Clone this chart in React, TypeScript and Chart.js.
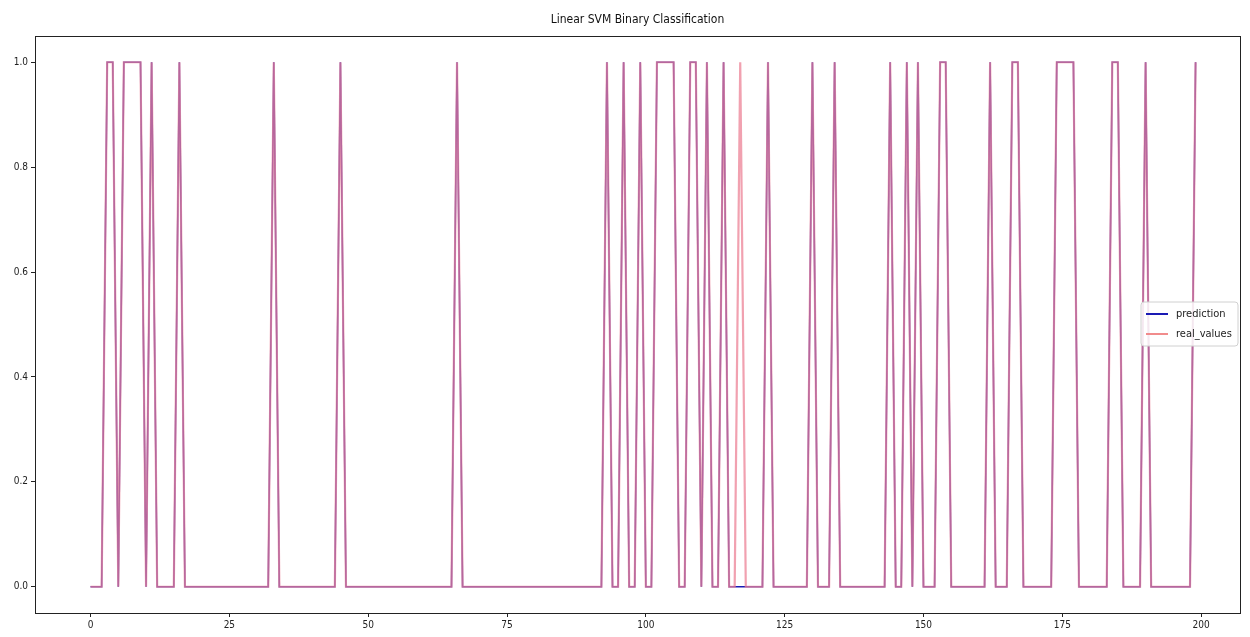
import { useEffect, useRef } from "react";
import { Chart, registerables } from "chart.js";
Chart.register(...registerables);

const TITLE = "Linear SVM Binary Classification";
const SERIES_NAMES = ["prediction", "real_values"];

const REAL_VALUES = [
  0, 0, 0, 1, 1, 0, 1, 1, 1, 1, 0, 1, 0, 0, 0, 0, 1, 0, 0, 0,
  0, 0, 0, 0, 0, 0, 0, 0, 0, 0, 0, 0, 0, 1, 0, 0, 0, 0, 0, 0,
  0, 0, 0, 0, 0, 1, 0, 0, 0, 0, 0, 0, 0, 0, 0, 0, 0, 0, 0, 0,
  0, 0, 0, 0, 0, 0, 1, 0, 0, 0, 0, 0, 0, 0, 0, 0, 0, 0, 0, 0,
  0, 0, 0, 0, 0, 0, 0, 0, 0, 0, 0, 0, 0, 1, 0, 0, 1, 0, 0, 1,
  0, 0, 1, 1, 1, 1, 0, 0, 1, 1, 0, 1, 0, 0, 1, 0, 0, 1, 0, 0,
  0, 0, 1, 0, 0, 0, 0, 0, 0, 0, 1, 0, 0, 0, 1, 0, 0, 0, 0, 0,
  0, 0, 0, 0, 1, 0, 0, 1, 0, 1, 0, 0, 0, 1, 1, 0, 0, 0, 0, 0,
  0, 0, 1, 0, 0, 0, 1, 1, 0, 0, 0, 0, 0, 0, 1, 1, 1, 1, 0, 0,
  0, 0, 0, 0, 1, 1, 0, 0, 0, 0, 1, 0, 0, 0, 0, 0, 0, 0, 0, 1,
];

const PREDICTION = [
  0, 0, 0, 1, 1, 0, 1, 1, 1, 1, 0, 1, 0, 0, 0, 0, 1, 0, 0, 0,
  0, 0, 0, 0, 0, 0, 0, 0, 0, 0, 0, 0, 0, 1, 0, 0, 0, 0, 0, 0,
  0, 0, 0, 0, 0, 1, 0, 0, 0, 0, 0, 0, 0, 0, 0, 0, 0, 0, 0, 0,
  0, 0, 0, 0, 0, 0, 1, 0, 0, 0, 0, 0, 0, 0, 0, 0, 0, 0, 0, 0,
  0, 0, 0, 0, 0, 0, 0, 0, 0, 0, 0, 0, 0, 1, 0, 0, 1, 0, 0, 1,
  0, 0, 1, 1, 1, 1, 0, 0, 1, 1, 0, 1, 0, 0, 1, 0, 0, 0, 0, 0,
  0, 0, 1, 0, 0, 0, 0, 0, 0, 0, 1, 0, 0, 0, 1, 0, 0, 0, 0, 0,
  0, 0, 0, 0, 1, 0, 0, 1, 0, 1, 0, 0, 0, 1, 1, 0, 0, 0, 0, 0,
  0, 0, 1, 0, 0, 0, 1, 1, 0, 0, 0, 0, 0, 0, 1, 1, 1, 1, 0, 0,
  0, 0, 0, 0, 1, 1, 0, 0, 0, 0, 1, 0, 0, 0, 0, 0, 0, 0, 0, 1,
];

const X_TICK_STEP = 25;
const Y_TICK_STEP = 0.2;

const FONT = '"Liberation Sans Narrow", "DejaVu Sans Condensed", "DejaVu Sans", sans-serif';
const PRED_COLOR = "#1a1ab4";
const REAL_COLOR = "rgba(236,130,150,0.75)";
const AXIS_COLOR = "#222";

const framePlugin = {
  id: "frame",
  afterDatasetsDraw(chart: any) {
    const { ctx, chartArea: a } = chart;
    ctx.save();
    ctx.strokeStyle = AXIS_COLOR;
    ctx.lineWidth = 1;
    ctx.strokeRect(Math.round(a.left) + 0.5, Math.round(a.top) + 0.5, Math.round(a.right - a.left), Math.round(a.bottom - a.top));
    ctx.restore();
  },
};

const titlePlugin = {
  id: "mplTitle",
  afterDraw(chart: any) {
    const { ctx, chartArea: a } = chart;
    ctx.save();
    ctx.font = `12px ${FONT}`;
    ctx.fillStyle = "#111";
    ctx.textAlign = "center";
    ctx.textBaseline = "middle";
    ctx.fillText(TITLE, (a.left + a.right) / 2, 20);
    ctx.restore();
  },
};

const legendPlugin = {
  id: "mplLegend",
  afterDraw(chart: any) {
    const { ctx, chartArea: a } = chart;
    const x0 = a.right - 99;
    const y0 = 302;
    const w = 97;
    const h = 44;
    ctx.save();
    ctx.beginPath();
    const r = 3;
    ctx.moveTo(x0 + r, y0);
    ctx.lineTo(x0 + w - r, y0);
    ctx.quadraticCurveTo(x0 + w, y0, x0 + w, y0 + r);
    ctx.lineTo(x0 + w, y0 + h - r);
    ctx.quadraticCurveTo(x0 + w, y0 + h, x0 + w - r, y0 + h);
    ctx.lineTo(x0 + r, y0 + h);
    ctx.quadraticCurveTo(x0, y0 + h, x0, y0 + h - r);
    ctx.lineTo(x0, y0 + r);
    ctx.quadraticCurveTo(x0, y0, x0 + r, y0);
    ctx.closePath();
    ctx.fillStyle = "rgba(255,255,255,0.85)";
    ctx.fill();
    ctx.strokeStyle = "#d0d0d0";
    ctx.lineWidth = 1;
    ctx.stroke();
    const colors = [PRED_COLOR, "rgba(240,128,128,0.9)"];
    const rows = [y0 + 12, y0 + 32];
    ctx.font = `11px ${FONT}`;
    ctx.textBaseline = "middle";
    ctx.textAlign = "left";
    SERIES_NAMES.forEach((name, i) => {
      ctx.strokeStyle = colors[i];
      ctx.lineWidth = 2;
      ctx.beginPath();
      ctx.moveTo(x0 + 5, rows[i]);
      ctx.lineTo(x0 + 27, rows[i]);
      ctx.stroke();
      ctx.fillStyle = "#222";
      ctx.fillText(name, x0 + 35, rows[i]);
    });
    ctx.restore();
  },
};

export default function App() {
  const ref = useRef<HTMLCanvasElement>(null);
  useEffect(() => {
    document.body.style.margin = "0";
    const toPoints = (arr: number[]) => arr.map((v, i) => ({ x: i, y: v }));
    const tickFont = { family: FONT, size: 10 };
    const chart = new Chart(ref.current!, {
      type: "line",
      data: {
        datasets: [
          {
            label: SERIES_NAMES[0],
            data: toPoints(PREDICTION),
            borderColor: PRED_COLOR,
            borderWidth: 1.5,
            pointRadius: 0,
            tension: 0,
            fill: false,
            order: 2,
          },
          {
            label: SERIES_NAMES[1],
            data: toPoints(REAL_VALUES),
            borderColor: REAL_COLOR,
            borderWidth: 2.2,
            pointRadius: 0,
            tension: 0,
            fill: false,
            order: 1,
          },
        ],
      },
      options: {
        animation: false,
        responsive: false,
        layout: { padding: { top: 36, right: 10, left: 0, bottom: 0 } },
        plugins: {
          legend: { display: false },
          title: { display: false },
          tooltip: { enabled: false },
        },
        scales: {
          x: {
            type: "linear",
            min: -10,
            max: 207,
            afterFit: (s: any) => {
              s.height = 24;
            },
            ticks: {
              stepSize: X_TICK_STEP,
              includeBounds: false,
              font: tickFont,
              color: AXIS_COLOR,
              padding: 2,
              maxRotation: 0,
              callback: (v: any) => String(v),
            },
            grid: { drawOnChartArea: false, drawTicks: true, tickLength: 4, color: AXIS_COLOR },
            border: { color: AXIS_COLOR },
          },
          y: {
            type: "linear",
            min: -0.05,
            max: 1.05,
            afterFit: (s: any) => {
              s.width = 35;
            },
            ticks: {
              stepSize: Y_TICK_STEP,
              includeBounds: false,
              font: tickFont,
              color: AXIS_COLOR,
              padding: 3,
              callback: (v: any) => Number(v).toFixed(1),
            },
            grid: { drawOnChartArea: false, drawTicks: true, tickLength: 4, color: AXIS_COLOR },
            border: { color: AXIS_COLOR },
          },
        },
      } as any,
      plugins: [framePlugin, titlePlugin, legendPlugin],
    });
    return () => chart.destroy();
  }, []);
  return <canvas ref={ref} width={1250} height={637} style={{ display: "block" }} />;
}
